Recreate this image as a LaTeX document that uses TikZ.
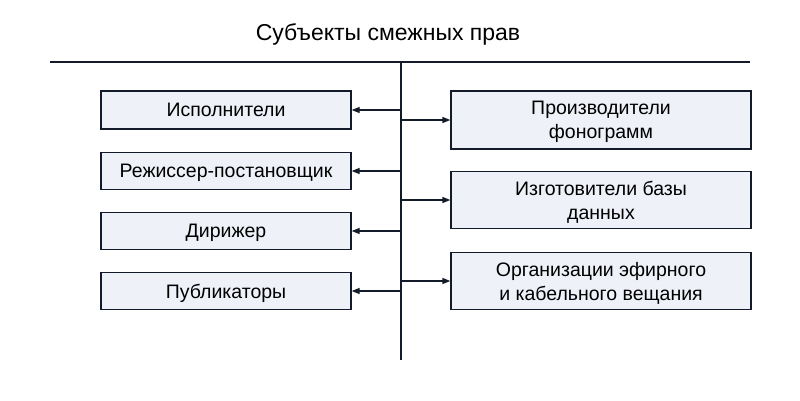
\documentclass[tikz,border=0pt]{standalone}
\usepackage{fontspec}
\setmainfont{Liberation Sans}
\usetikzlibrary{arrows.meta}
\definecolor{ln}{HTML}{131B2B}
\definecolor{bx}{HTML}{EEF2F8}
\begin{document}
\begin{tikzpicture}[x=1pt,y=-1pt,
 box/.style={draw=ln,line width=1.3pt,fill=bx,align=center,font=\fontsize{19.5}{24}\selectfont,inner sep=0pt,text depth=0pt},
 ar/.style={draw=ln,line width=1.3pt,-{Triangle[length=8pt,width=6pt]}}]
\useasboundingbox (0,0) rectangle (800,400);
\node (t) at (388,34) {\fontsize{23}{27}\selectfont Субъекты смежных прав};
\coordinate (h1) at (50,62); \coordinate (h2) at (750,62);
\coordinate (v1) at (401,62); \coordinate (v2) at (401,360);
\draw[ln,line width=1.3pt] (h1) -- (h2);
\draw[ln,line width=1.3pt] (v1) -- (v2);
\node[box,minimum width=250pt,minimum height=38pt] (l1) at (226,110) {Исполнители};
\node[box,minimum width=250pt,minimum height=37pt] (l2) at (226,171) {Режиссер-постановщик};
\node[box,minimum width=250pt,minimum height=37pt] (l3) at (226,231) {Дирижер};
\node[box,minimum width=250pt,minimum height=37pt] (l4) at (226,291) {Публикаторы};
\node[box,minimum width=300pt,minimum height=58pt] (r1) at (601,120) {Производители\\фонограмм};
\node[box,minimum width=300pt,minimum height=57pt] (r2) at (601,200) {Изготовители базы\\данных};
\node[box,minimum width=300pt,minimum height=57pt] (r3) at (601,281) {Организации эфирного\\и кабельного вещания};
\foreach \n/\y in {l1/110,l2/171,l3/231,l4/291}{\coordinate (s\n) at (401,\y); \draw[ar] (s\n) -- (\n.east|-s\n);}
\foreach \n/\y in {r1/120,r2/200,r3/281}{\coordinate (s\n) at (401,\y); \draw[ar] (s\n) -- (\n.west|-s\n);}
\end{tikzpicture}
\end{document}
